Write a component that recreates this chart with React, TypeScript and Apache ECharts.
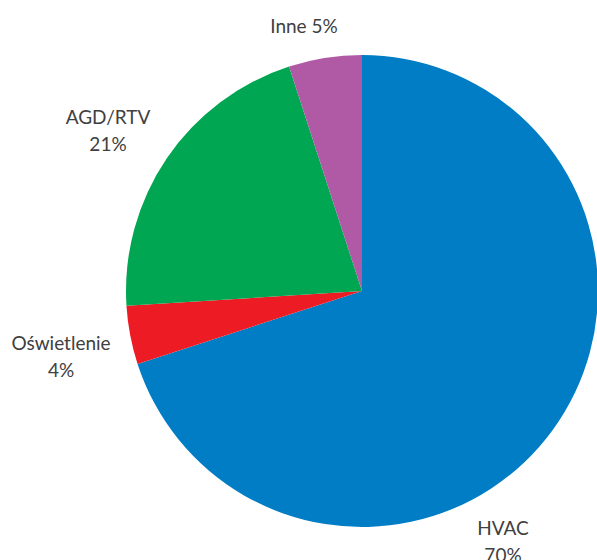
import React, { useEffect, useRef } from "react";
import * as echarts from "echarts";

const categories = ["HVAC", "Oświetlenie", "AGD/RTV", "Inne"];
const values = [70, 4, 21, 5];
const colors = ["#007DC5", "#ED1C24", "#00A651", "#B05AA5"];
const labelPositions: Record<string, [number, number]> = {
  HVAC: [503, 541],
  "Oświetlenie": [61, 356],
  "AGD/RTV": [108, 130],
  Inne: [304, 25],
};

export default function App() {
  const ref = useRef<HTMLDivElement>(null);
  useEffect(() => {
    if (!ref.current) return;
    const chart = echarts.init(ref.current, null, { renderer: "svg" });
    chart.setOption({
      animation: false,
      backgroundColor: "#ffffff",
      series: [
        {
          type: "pie",
          center: [362, 291],
          radius: 236,
          startAngle: 90,
          clockwise: true,
          avoidLabelOverlap: false,
          data: categories.map((c, i) => ({
            name: c,
            value: values[i],
            itemStyle: { color: colors[i] },
          })),
          label: {
            show: true,
            position: "outside",
            formatter: (p: any) =>
              p.name === "Inne" ? `${p.name} ${p.value}%` : `${p.name}\n${p.value}%`,
            fontFamily: "Lato",
            fontSize: 19,
            lineHeight: 27,
            color: "#404040",
            align: "center",
          },
          labelLine: { show: false },
          labelLayout: (params: any) => {
            const name = categories[params.dataIndex];
            const pos = labelPositions[name];
            return { x: pos[0], y: pos[1], align: "center", verticalAlign: "middle" };
          },
          emphasis: { disabled: true },
        },
      ],
    });
    return () => chart.dispose();
  }, []);
  return (
    <div
      ref={ref}
      style={{ position: "fixed", left: 0, top: 0, width: 597, height: 560 }}
    />
  );
}
